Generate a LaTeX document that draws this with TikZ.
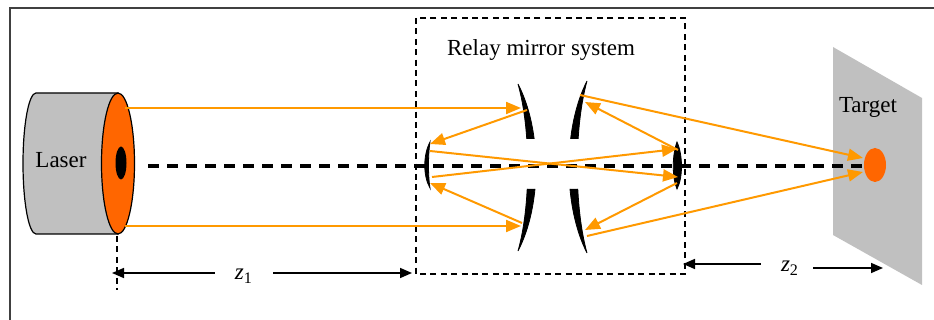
\documentclass[tikz,border=0pt]{standalone}
\usepackage{fontspec}
\setmainfont{Liberation Serif}
\usetikzlibrary{arrows.meta}

\definecolor{beamorange}{RGB}{255,153,0}
\definecolor{spotorange}{RGB}{255,102,0}
\definecolor{bodygray}{RGB}{192,192,192}

\tikzset{
  beam/.style={beamorange, line width=1pt, -{Triangle[length=7.5pt,width=6pt]}},
  optaxis/.style={black, line width=1.7pt, dash pattern=on 5.5pt off 4pt},
  thindash/.style={black, line width=0.6pt, dash pattern=on 3pt off 2.2pt},
  dimarrow/.style={black, line width=0.8pt, -{Triangle[length=6pt,width=5pt]}},
  mirror/.style={fill=black, draw=black, line width=0.4pt},
  label/.style={font=\fontsize{11.5}{13}\selectfont, inner sep=0pt}
}

\begin{document}
\begin{tikzpicture}[x=0.5pt,y=-0.5pt]
    \useasboundingbox (0,0) rectangle (934,320);
    \draw[black!75, line width=0.6pt] (10,320) -- (10,8) -- (934,8);% page frame

    % target plane and spot
    \fill[bodygray] (833,47) -- (922,98) -- (922,285) -- (833,235) -- cycle;
    \node[label] (target) at (868,107) {Target};
    \fill[spotorange] (875,165) ellipse [x radius=11, y radius=17];
    \coordinate (spot) at (875,165);

    % laser body: gray cylinder with orange front face
    \fill[bodygray, draw=black, line width=0.6pt] (36,93) -- (118,93) -- (118,234) -- (36,234)
        .. controls (28.8,234) and (23,202.4) .. (23,163.5)
        .. controls (23,124.6) and (28.8,93) .. (36,93) -- cycle;
    \filldraw[fill=spotorange, draw=black, line width=0.6pt] (118,163.5) ellipse [x radius=16.5, y radius=70.5];
    \fill[black] (121,163) ellipse [x radius=5.5, y radius=16.5];
    \node[label] (laser) at (61,160) {Laser};

    % relay mirror box
    \draw[thindash] (416,18) rectangle (685,274);
    \node[label] (relay) at (541,50) {Relay mirror system};

    % big mirrors, cut open round the axis
    \begin{scope}
      \clip (500,70) rectangle (610,139) (500,189) rectangle (610,265);
      \filldraw[mirror] (518,84) .. controls (542,130) and (542,205) .. (518,251)
          .. controls (531,205) and (531,130) .. (518,84) -- cycle;
      \filldraw[mirror] (587,81) .. controls (563,128) and (563,206) .. (587,253)
          .. controls (574,206) and (574,128) .. (587,81) -- cycle;
    \end{scope}
    % small mirrors
    \filldraw[mirror] (430,142) .. controls (423,155) and (423,176) .. (430,188)
        .. controls (428,176) and (428,155) .. (430,142) -- cycle;
    \filldraw[mirror] (677,142) .. controls (683,155) and (683,178) .. (677,189)
        .. controls (672,178) and (672,155) .. (677,142) -- cycle;

    % optical axis
    \draw[optaxis] (148,166) -- (862,166);

    % points where the beams meet the optics
    \coordinate (lasertop) at (125,108);
    \coordinate (laserbot) at (125,226);
    \coordinate (bigLtop) at (521,108);
    \coordinate (bigLbot) at (521,226);
    \coordinate (bigRtop) at (585,102);
    \coordinate (bigRbot) at (585,230);
    \coordinate (smallL) at (430,166);
    \coordinate (smallR) at (677,166);

    % beam path
    \draw[beam] (lasertop) -- (bigLtop);
    \draw[beam] (laserbot) -- (bigLbot);
    \draw[beam] ([shift={(6,2)}]bigLtop) -- ([shift={(0,-22)}]smallL);
    \draw[beam] ([shift={(1,-3)}]bigLbot) -- ([shift={(0,17)}]smallL);
    \draw[beam] ([shift={(0,-15)}]smallL) -- ([shift={(1,11)}]smallR);
    \draw[beam] ([shift={(2,11)}]smallL) -- ([shift={(0,-17)}]smallR);
    \draw[beam] ([shift={(1,-16)}]smallR) -- (bigRtop);
    \draw[beam] ([shift={(0,17)}]smallR) -- (bigRbot);
    \draw[beam] ([shift={(-5,-7)}]bigRtop) -- ([shift={(-12,-7)}]spot);
    \draw[beam] ([shift={(2,6)}]bigRbot) -- ([shift={(-12,7)}]spot);

    % propagation distances
    \draw[thindash] (117,236) -- (117,290);
    \node[label] (z1) at (244,276) {\textit{z}\textsubscript{1}};
    \draw[dimarrow] (z1.west) ++(-20,-3) -- (112,273);
    \draw[dimarrow] (z1.east) ++(20,-3) -- (412,273);
    \node[label] (z2) at (790,268) {\textit{z}\textsubscript{2}};
    \draw[dimarrow] (z2.west) ++(-20,-4) -- (683,264);
    \draw[dimarrow] (z2.east) ++(14,0) -- (883,268);
\end{tikzpicture}
\end{document}
